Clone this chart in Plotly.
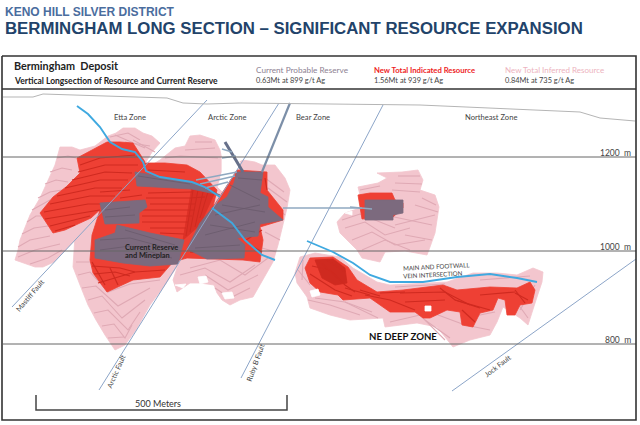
import plotly.graph_objects as go

PINK = "#F3C6CE"
PINK_D = "#DFA9B4"
RED = "#EE4034"
RED_D = "#CF2A20"
GREY = "#7C6A7E"
GREY_D = "#6A5B6C"
BLUE = "#3FA9E0"
FAULT = "#8CA5C8"
DARK = "#333333"

inferred_etta = [(60,147),(72,147),(80,150),(95,146),(108,136),(116,133),(123,128),(135,128),(143,133),(152,136),(160,143),(152,152),(146,162),(112,198),(79,236),(54,262),(43,267),(35,267),(15,260),(18,250),(20,240),(25,228),(30,215),(40,198),(48,180),(55,165)]
inferred_central = [(150,166),(160,160),(175,148),(185,146),(190,136),(200,135),(215,140),(220,150),(222,160),(222,172),(243,160),(255,162),(262,165),(275,165),(285,178),(290,190),(287,208),(283,225),(278,245),(273,262),(263,280),(253,297),(240,300),(230,305),(222,300),(217,293),(214,285),(200,283),(190,283),(177,292),(173,280),(178,265),(165,285),(150,305),(136,330),(125,345),(115,350),(105,335),(96,320),(88,305),(80,285),(73,267),(75,235),(95,215)]
inferred_ne = [(377,173),(402,172),(418,170),(423,180),(420,190),(435,195),(439,207),(437,220),(435,233),(430,247),(427,255),(405,251),(385,252),(380,262),(362,258),(357,250),(340,233),(337,222),(345,213),(363,207),(358,187),(378,183),(387,178)]
inferred_deep = [(295,273),(300,257),(315,253),(340,257),(353,268),(377,282),(390,285),(447,282),(473,273),(497,273),(517,275),(533,268),(543,272),(542,282),(537,297),(528,325),(520,318),(503,307),(497,322),(490,335),(470,340),(453,347),(437,327),(417,323),(385,327),(383,318),(350,320),(330,315),(310,308),(307,297),(297,283)]

indicated_etta = [(77,158),(92,150),(107,142),(120,142),(133,143),(145,162),(125,184),(103,207),(91,218),(80,223),(65,230),(53,233),(47,224),(40,213),(53,197),(66,187),(80,173)]
indicated_central = [(143,163),(165,163),(187,165),(200,172),(217,190),(213,207),(237,170),(267,172),(267,190),(283,210),(283,220),(260,227),(263,240),(260,262),(243,260),(187,258),(173,262),(160,277),(133,280),(107,292),(93,273),(90,260),(92,235),(100,210)]
indicated_ne = [(358,195),(370,193),(392,193),(395,200),(403,203),(403,208),(393,217),(362,219),(360,207)]
indicated_deep = [(305,268),(310,258),(333,257),(348,267),(357,280),(377,292),(403,290),(443,285),(457,290),(490,287),(517,288),(530,282),(535,290),(532,303),(520,305),(515,315),(507,315),(505,300),(498,298),(493,310),(480,313),(473,327),(462,325),(460,312),(447,310),(430,318),(423,318),(415,312),(390,312),(370,298),(343,300),(338,295),(320,292),(310,283)]
indicated_core = [(315,260),(333,259),(345,268),(347,283),(335,285),(322,278)]
indicated_wedge = [(192,186),(215,192),(200,225),(183,240)]

reserve_a = [(135,172),(167,178),(192,182),(220,195),(192,189),(137,186)]
reserve_b = [(100,203),(145,200),(147,207),(139,213),(139,223),(105,224)]
reserve_c = [(117,225),(150,233),(184,240),(178,264),(150,266),(123,263),(95,258),(95,240),(115,233)]
reserve_d = [(237,172),(263,172),(260,193),(268,197),(268,207),(283,220),(260,224),(258,236),(237,238),(245,245),(244,258),(207,259),(187,249),(200,223),(213,207),(227,197),(234,183)]
reserve_ne = [(365,200),(403,200),(403,213),(393,215),(393,220),(365,220)]

white_spots = [[(425,306),(431,306),(431,311),(425,311)],[(310,291),(318,289),(320,295),(312,297)],[(222,157),(240,162),(237,172),(226,195),(218,187),(222,172)],
               [(198,277),(206,276),(208,282),(200,284)],[(222,293),(232,292),(234,298),(225,299)],[(175,285),(186,284),(183,288)],[(345,213),(352,211),(352,215)]]

blue_west = [(77,106),(88,114),(100,127),(110,142),(122,149),(135,152),(143,162),(146,171),(160,177),(175,179),(192,182),(205,187),(220,197)]
blue_central = [(212,208),(232,223),(245,240),(262,255),(275,260)]
blue_ne = [(307,241),(333,252),(353,263),(370,275),(390,282),(423,282),(457,277),(490,274),(517,278),(537,282)]

surface = [(3,97),(33,97),(43,94),(167,98),(183,103),(207,104),(240,103),(320,104),(383,105),(420,105),(580,112),(600,118),(635,121)]

faults = [[(207,100),(12,307)],[(279,103),(99,390)],[(383,105),(241,378)],[(636,259),(452,391)]]
shaft = [(290,103),(262,172)]
drift_main = [(225,142),(235,158),(243,172)]
drifts = [[(222,149),(232,152)],[(222,158),(236,156)],[(196,180),(237,172)],[(200,184),(235,176)],[(205,188),(228,182)],[(283,208),(362,208)],[(350,207),(372,209)]]

bands_pink = [
 [(57,158),(68,156),(76,158)],[(50,172),(62,168),(72,170)],[(45,184),(56,180),(68,182)],[(38,198),(50,192),(62,190)],
 [(32,210),(42,204),(50,200)],[(27,222),(36,216),(42,216)],[(22,234),(34,228),(48,226)],[(18,247),(30,240),(50,236)],[(18,257),(35,250),(60,244)],[(30,264),(48,258),(62,250)],
 [(110,137),(128,133),(140,140)],[(115,135),(145,148)],[(125,142),(150,146)],[(133,140),(155,152)],
 [(165,158),(180,156),(218,158)],[(185,150),(215,148)],[(195,142),(212,142)],
 [(76,262),(92,262),(104,272),(120,268),(150,270)],[(78,275),(90,272),(108,292),(130,284),(160,280)],[(82,288),(96,286),(118,306),(150,288)],
 [(88,300),(102,296),(122,318),(145,300)],[(94,313),(108,310),(128,330),(140,312)],[(102,326),(114,324),(125,338),(132,325)],[(108,338),(124,337)],
 [(180,275),(205,268),(230,282),(255,265)],[(190,268),(220,260),(245,275),(268,258)],[(205,275),(228,290),(258,275)],[(215,288),(230,298),(250,288)],
 [(265,178),(284,192)],[(268,188),(287,202)],[(268,200),(285,215)],[(265,232),(280,240)],[(262,248),(276,252)],
 [(345,228),(365,222),(385,235),(410,228)],[(342,220),(360,214),(395,228)],[(352,240),(372,232),(395,245),(425,240)],[(362,250),(385,240),(410,250)],[(395,225),(435,215)],[(385,215),(432,225)],
 [(405,235),(432,240)],[(415,205),(438,212)],[(422,198),(436,205)],[(398,176),(420,176)],[(395,183),(422,184)],[(392,190),(420,192)],[(360,190),(380,186)],
 [(298,270),(310,285)],[(303,260),(302,280)],[(308,300),(330,305),(360,315)],[(315,298),(345,302),(378,318)],[(345,302),(372,312)],[(390,322),(420,315),(445,340)],[(425,320),(450,338)],[(430,312),(465,325),(490,330)],[(465,318),(495,312)],
 [(480,280),(530,276)],[(395,287),(445,284)],[(520,310),(535,285)],[(515,300),(528,318)],
]
bands_red = [
 [(80,165),(100,158),(135,155)],[(78,172),(105,165),(138,165)],[(72,180),(105,172),(132,173)],[(65,188),(100,180),(128,180)],[(57,196),(95,188),(122,188)],[(50,204),(90,196),(115,196)],
 [(44,212),(88,204),(108,204)],[(45,219),(85,212),(100,210)],[(50,226),(80,218),(90,216)],[(55,231),(75,225)],
 [(148,170),(185,172)],[(148,193),(192,192)],[(146,198),(190,198),(205,197)],[(150,204),(195,204)],[(142,210),(195,210)],[(142,216),(192,216)],[(142,222),(188,222)],[(150,228),(186,228)],[(160,233),(184,234)],
 [(100,192),(130,190)],[(120,198),(142,195)],
 [(92,266),(120,268),(135,272)],[(94,274),(115,272),(130,276)],[(98,283),(135,272),(165,270)],[(92,262),(105,285)],[(110,268),(118,285)],
 [(265,178),(267,190)],[(262,230),(246,240)],[(250,245),(262,252)],[(190,252),(240,256)],
 [(312,266),(330,270),(345,285),(355,292)],[(310,274),(335,290),(352,296)],[(345,288),(370,295)],[(320,262),(340,280)],[(327,260),(345,272)],[(365,295),(390,300),(415,310)],[(380,293),(405,292)],
 [(400,293),(445,292),(470,305)],[(440,288),(455,300),(490,310)],[(405,302),(445,300)],[(480,295),(515,292)],[(515,293),(528,300)],[(462,310),(475,322)],[(455,300),(480,308)],[(515,290),(525,303)],[(360,290),(380,296)],
]
bands_wedge = [[(193,190),(186,236)],[(198,190),(190,232)],[(203,192),(195,227)],[(208,192),(200,218)]]
bands_grey = [
 [(138,176),(165,180),(190,184)],[(105,210),(130,207)],[(105,217),(135,215)],[(100,240),(130,238),(175,250)],[(100,250),(130,246),(172,258)],[(125,230),(175,245)],
 [(215,215),(260,205)],[(205,235),(255,222)],[(230,185),(260,200)],[(195,248),(240,245)],[(222,205),(265,212)],[(210,225),(255,232)],[(238,178),(262,180)],
]

levels = [157,251,344]
level_labels = ["1200  m","1000  m","800  m"]
scale_bar = [(36,395),(36,410),(287,410),(287,395)]

frame = [(2,56),(636,56),(636,420),(2,420),(2,56)]
divider = [(2,89),(636,89)]

kicker_text = "KENO HILL SILVER DISTRICT"
title_text = "BERMINGHAM LONG SECTION – SIGNIFICANT RESOURCE EXPANSION"
header_left = "Bermingham  Deposit"
header_sub = "Vertical Longsection of Resource and Current Reserve"
legend_names = ["Current Probable Reserve","New Total Indicated Resource","New Total Inferred Resource"]
legend_values = ["0.63Mt at 899 g/t Ag","1.56Mt at 939 g/t Ag","0.84Mt at 735 g/t Ag"]
legend_colors = ["#8D7F92","#EE1C25","#EDB3BE"]
legend_xs = [254,372,503]
zone_names = ["Etta Zone","Arctic Zone","Bear Zone","Northeast Zone"]
zone_xs = [130,227,313,491]
fault_names = ["Mastiff Fault","Arctic Fault","Ruby B Fault","Jock Fault"]
fault_label_pos = [(30,295),(116,371),(255,363),(497,366)]
fault_label_angle = [-50,-66,-70,-38]

fig = go.Figure()

def poly(pts, color):
    fig.add_trace(go.Scatter(x=[p[0] for p in pts]+[pts[0][0]], y=[p[1] for p in pts]+[pts[0][1]],
        mode="lines", fill="toself", fillcolor=color, line=dict(width=0.8, color=color), hoverinfo="skip", showlegend=False))

def line(pts, color, width=1.0):
    fig.add_trace(go.Scatter(x=[p[0] for p in pts], y=[p[1] for p in pts], mode="lines",
        line=dict(color=color, width=width), hoverinfo="skip", showlegend=False))

for p in (inferred_etta, inferred_central, inferred_ne, inferred_deep):
    poly(p, PINK)
for b in bands_pink:
    line(b, PINK_D, 1.1)
for p in white_spots[2:]:
    poly(p, "white")
for p in (indicated_etta, indicated_central, indicated_ne, indicated_deep):
    poly(p, RED)
poly(indicated_core, RED_D)
poly(indicated_wedge, "#DC3026")
for b in bands_red:
    line(b, RED_D, 1.2)
for b in bands_wedge:
    line(b, RED_D, 1.0)
for p in white_spots[:2]:
    poly(p, "white")
for p in (reserve_a, reserve_b, reserve_c, reserve_d, reserve_ne):
    poly(p, GREY)
for b in bands_grey:
    line(b, GREY_D, 0.8)
for f in faults:
    line(f, FAULT, 1.0)
line(shaft, "#7C8FA8", 2.2)
line(drift_main, "#66708A", 3)
for d in drifts:
    line(d, "#8FA8C0", 1.5)
line(surface, "#B5B5B5", 1.0)
for y in levels:
    line([(3,y),(636,y)], "#666666", 1.0)
for b in (blue_west, blue_central, blue_ne):
    line(b, BLUE, 1.9)
line(scale_bar, "#444444", 1.5)
line(frame, DARK, 1.6)
line(divider, DARK, 1.6)

ann = []
def text(x, y, s, size, color="#333333", family="Lato", anchor="left", angle=0, bold=False):
    ann.append(dict(x=x, y=y, xref="x", yref="y", text=f"<b>{s}</b>" if bold else s, showarrow=False,
        xanchor=anchor, yanchor="middle", textangle=angle, font=dict(size=size, color=color, family=family)))

text(3, 12, kicker_text, 12, "#4A6D9E", "Liberation Sans", bold=True)
text(3, 28, title_text, 16.8, "#22436A", "Liberation Sans", bold=True)
text(12, 65, header_left, 10.8, "#222222", bold=True)
text(12, 81, header_sub, 8.5, "#222222", bold=True)
for x, n, v, c, s in zip(legend_xs, legend_names, legend_values, legend_colors, [8.2,7.7,8.0]):
    text(x, 70, n, s, c, bold=n.startswith("New Total Ind"))
    text(x, 80, v, 7.4, "#444444")
for x, z in zip(zone_xs, zone_names):
    text(x, 117, z, 7.6, "#444444", anchor="center")
for y, s in zip(levels, level_labels):
    text(633, y-4, s, 8.5, "#444444", anchor="right")
for (x, y), s, a in zip(fault_label_pos, fault_names, fault_label_angle):
    text(x, y, s, 7.1, "#444444", anchor="center", angle=a)
text(123, 247, "Current Reserve", 7.4, "#222222", bold=True)
text(123, 255, "and Mineplan", 7.4, "#222222", bold=True)
text(436, 266, "MAIN AND FOOTWALL", 6.2, "#444444", anchor="center", angle=-3)
text(433, 274, "VEIN INTERSECTION", 6.2, "#444444", anchor="center", angle=-3)
text(403, 336, "NE DEEP ZONE", 9.6, "#111111", anchor="center", bold=True)
text(158, 403, "500 Meters", 9, "#333333", anchor="center")

fig.update_layout(width=640, height=425, margin=dict(l=0,r=0,t=0,b=0), paper_bgcolor="white", plot_bgcolor="white",
    xaxis=dict(range=[0,640], visible=False, fixedrange=True),
    yaxis=dict(range=[425,0], visible=False, fixedrange=True),
    annotations=ann, showlegend=False)
fig.write_html("out.html", post_script="document.body.style.margin='0';", config={"displayModeBar": False})
